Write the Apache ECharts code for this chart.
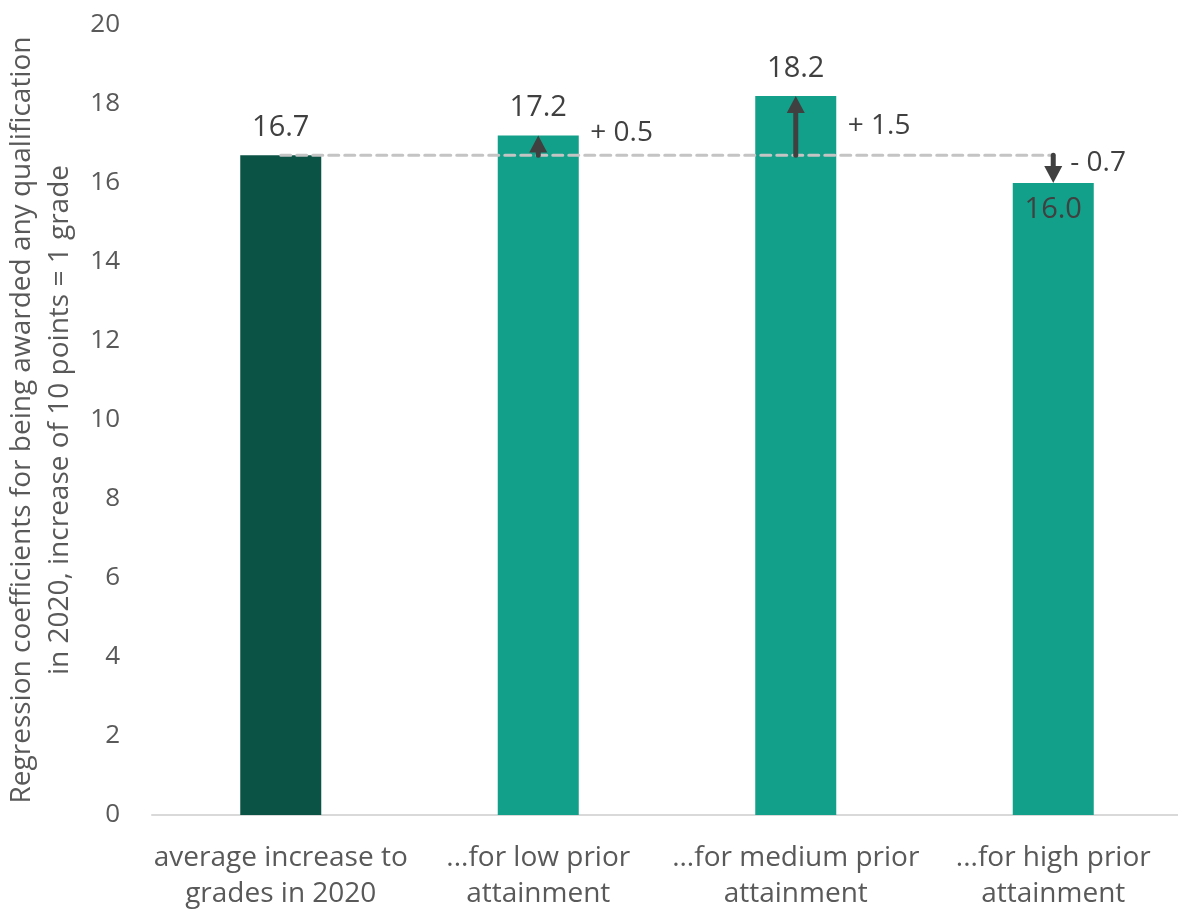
<!DOCTYPE html>
<html>
<head>
<meta charset="utf-8">
<script src="https://cdn.jsdelivr.net/npm/echarts@6/dist/echarts.min.js"></script>
<style>
  html, body { margin: 0; padding: 0; background: #ffffff; }
  #chart { width: 1178px; height: 909px; }
</style>
</head>
<body>
<div id="chart"></div>
<script>
// Categories along the x axis
const categories = [
  'average increase to\ngrades in 2020',
  '...for low prior\nattainment',
  '...for medium prior\nattainment',
  '...for high prior\nattainment'
];
// Regression coefficients (points; 10 points = 1 grade)
const coefficients = [16.7, 17.2, 18.2, 16.0];
// Y axis scale
const yMin = 0;
const yMax = 20;
const yStep = 2;

const FONT = '"Open Sans", Lato, sans-serif';
const DARK = '#0b5345';
const TEAL = '#12a08a';
const INK = '#404040';
const GREY_TEXT = '#595959';

const average = coefficients[0];

// Bars: first one dark, the rest teal; last label sits inside the bar
const barData = coefficients.map((v, i) => ({
  value: v,
  itemStyle: { color: i === 0 ? DARK : TEAL },
  label: i === coefficients.length - 1
    ? { position: 'insideTop', distance: 12 }
    : { position: 'top', distance: 13 }
}));

// Reference line at the overall average
const refLine = categories.map(() => average);

// Arrows from the average to each subgroup value
const arrowData = coefficients
  .map((v, i) => [i, average, v])
  .filter(d => d[0] > 0);

function fmtDelta(d) {
  const s = d >= 0 ? '+ ' : '- ';
  return s + Math.abs(d).toFixed(1);
}

function renderArrow(params, api) {
  const idx = api.value(0);
  const from = api.value(1);
  const to = api.value(2);
  const p0 = api.coord([idx, from]);
  const p1 = api.coord([idx, to]);
  const up = to > from;
  const headH = 17, headW = 18;
  const dir = up ? 1 : -1;
  const baseY = p1[1] + dir * headH;
  const children = [
    {
      type: 'line',
      shape: { x1: p0[0], y1: p0[1], x2: p0[0], y2: baseY },
      style: { stroke: INK, lineWidth: 5, lineCap: 'round' }
    },
    {
      type: 'polygon',
      shape: { points: [[p1[0], p1[1]], [p1[0] - headW / 2, baseY], [p1[0] + headW / 2, baseY]] },
      style: { fill: INK }
    }
  ];
  const mid = api.coord([idx, (from + to) / 2]);
  let tx, ty;
  if (up) {
    tx = p1[0] + 52;
    ty = Math.min(mid[1], p0[1] - 22);
  } else {
    tx = p1[0] + 17;
    ty = p0[1] + 8;
  }
  children.push({
    type: 'text',
    style: {
      x: tx, y: ty,
      text: fmtDelta(to - from),
      fill: INK,
      font: '28px ' + FONT,
      textAlign: 'left',
      textVerticalAlign: 'middle'
    }
  });
  return { type: 'group', children };
}

const chart = echarts.init(document.getElementById('chart'), null, { renderer: 'canvas' });
chart.setOption({
  backgroundColor: '#ffffff',
  animation: false,
  grid: {
    left: 152, top: 25, width: 1030, height: 790,
    containLabel: false,
    outerBoundsMode: 'none'
  },
  xAxis: {
    type: 'category',
    data: categories,
    axisLine: { show: true, lineStyle: { color: '#d9d9d9', width: 2 } },
    axisTick: { show: false },
    axisLabel: {
      color: GREY_TEXT,
      fontFamily: FONT,
      fontSize: 28,
      lineHeight: 36,
      margin: 25,
      interval: 0
    }
  },
  yAxis: {
    type: 'value',
    min: yMin,
    max: yMax,
    interval: yStep,
    axisLine: { show: false },
    axisTick: { show: false },
    splitLine: { show: false },
    axisLabel: { color: GREY_TEXT, fontFamily: FONT, fontSize: 26, margin: 32 },
    name: 'Regression coefficients for being awarded any qualification\nin 2020, increase of 10 points = 1 grade',
    nameLocation: 'middle',
    nameGap: 65,
    nameTextStyle: {
      color: GREY_TEXT,
      fontFamily: FONT,
      fontSize: 28,
      lineHeight: 38
    }
  },
  series: [
    {
      type: 'bar',
      data: barData,
      barWidth: 81,
      z: 1,
      label: {
        show: true,
        color: INK,
        fontFamily: FONT,
        fontSize: 29,
        formatter: p => p.value.toFixed(1)
      }
    },
    {
      type: 'line',
      data: refLine,
      symbol: 'none',
      silent: true,
      z: 3,
      lineStyle: { color: '#c4c4c4', width: 3, type: [10, 6], cap: 'round' }
    },
    {
      type: 'custom',
      data: arrowData,
      renderItem: renderArrow,
      z: 5,
      silent: true
    }
  ]
});
</script>
</body>
</html>
